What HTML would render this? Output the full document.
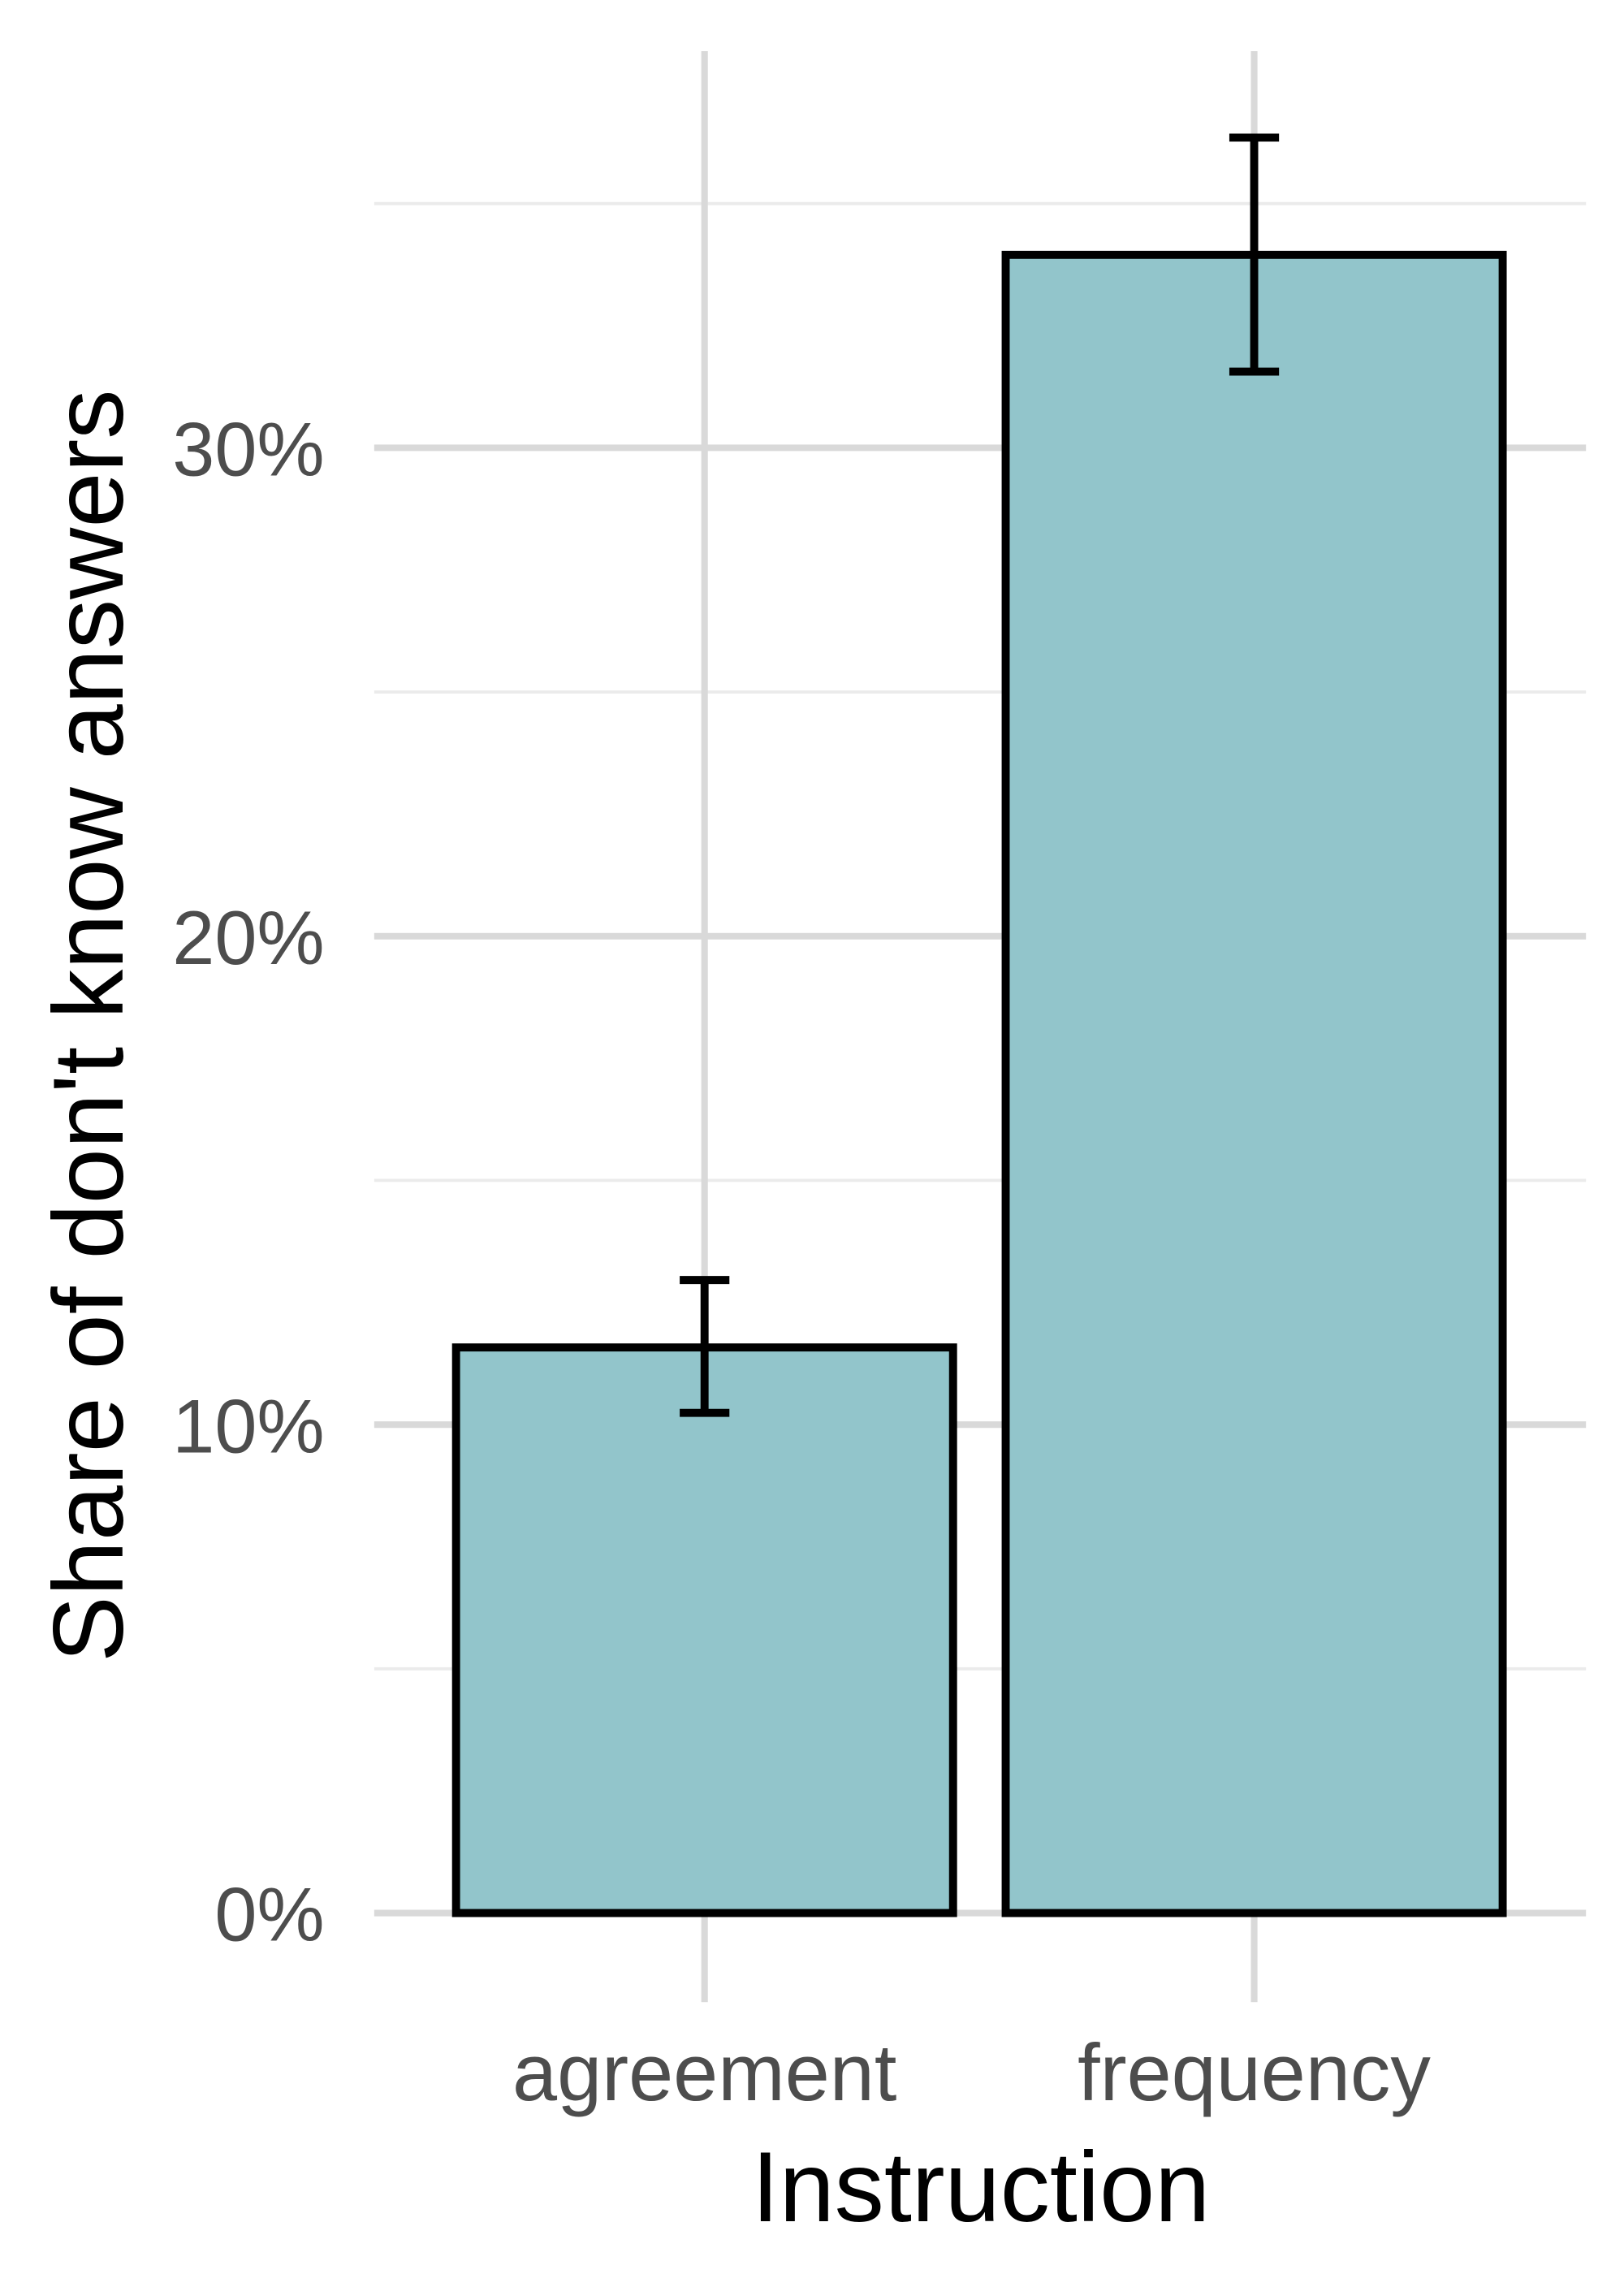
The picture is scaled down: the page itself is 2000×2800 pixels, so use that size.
<!DOCTYPE html>
<html><head><meta charset="utf-8"><style>
html,body{margin:0;padding:0;background:#fff;width:2000px;height:2800px;overflow:hidden}
svg{display:block}
text{font-family:"Liberation Sans",Arial,sans-serif}
</style></head><body>
<svg id="chart" width="2000" height="2800" viewBox="0 0 1111 1556" preserveAspectRatio="none" xmlns="http://www.w3.org/2000/svg">
<g id="grid"></g>
<g id="bars"></g>
<g id="labels"></g>
<text x="671" y="1520" font-size="68" text-anchor="middle" fill="#000">Instruction</text>
<text transform="translate(84,702) rotate(-90)" font-size="68" text-anchor="middle" fill="#000">Share of don't know answers</text>
</svg>
<script>
const categories = ["agreement", "frequency"];
const values = [11.58, 33.95];
const errLow = [10.24, 31.56];
const errHigh = [12.96, 36.35];
const yTicks = [0, 10, 20, 30];
const yTickLabels = ["0%", "10%", "20%", "30%"];
const yMinor = [5, 15, 25, 35];

const NS = "http://www.w3.org/2000/svg";
const left = 256, right = 1085, y0px = 1309, pxPer = 33.42;
const xc0 = 482, xStep = 376, barHalf = 170, capHalf = 17;
const yS = v => y0px - v * pxPer;
const xS = i => xc0 + i * xStep;
function mk(tag, attrs, parent) {
  const e = document.createElementNS(NS, tag);
  for (const k in attrs) e.setAttribute(k, attrs[k]);
  parent.appendChild(e);
  return e;
}
const grid = document.getElementById("grid");
const bars = document.getElementById("bars");
const labels = document.getElementById("labels");
yMinor.forEach(v => {
  const l = mk("line", {x1: left, x2: right, y1: yS(v), y2: yS(v), stroke: "#ebebeb", "stroke-width": 2.2}, grid);
  
  
});
yTicks.forEach((v, i) => {
  const l = mk("line", {x1: left, x2: right, y1: yS(v), y2: yS(v), stroke: "#d9d9d9", "stroke-width": 4.5}, grid);
  
  
  const t = mk("text", {x: 222, y: yS(v) + 19, "font-size": 52, "text-anchor": "end", fill: "#4d4d4d"}, labels);
  t.textContent = yTickLabels[i];
  
  
});
categories.forEach((c, i) => {
  const l = mk("line", {x1: xS(i), x2: xS(i), y1: 35, y2: 1370, stroke: "#d9d9d9", "stroke-width": 4.5}, grid);
  
  
  const r = mk("rect", {x: xS(i) - barHalf, y: yS(values[i]), width: 2 * barHalf, height: yS(0) - yS(values[i]), fill: "#92c5cb", stroke: "#000", "stroke-width": 5.5}, bars);
  
  
  const g = mk("g", {stroke: "#000", "stroke-width": 5.5}, bars);
  
  
  mk("line", {x1: xS(i), x2: xS(i), y1: yS(errHigh[i]), y2: yS(errLow[i])}, g);
  mk("line", {x1: xS(i) - capHalf, x2: xS(i) + capHalf, y1: yS(errHigh[i]), y2: yS(errHigh[i])}, g);
  mk("line", {x1: xS(i) - capHalf, x2: xS(i) + capHalf, y1: yS(errLow[i]), y2: yS(errLow[i])}, g);
  const t = mk("text", {x: xS(i), y: 1437, "font-size": 55, "text-anchor": "middle", fill: "#4d4d4d"}, labels);
  t.textContent = c;
  
  
});
</script>
</body></html>
